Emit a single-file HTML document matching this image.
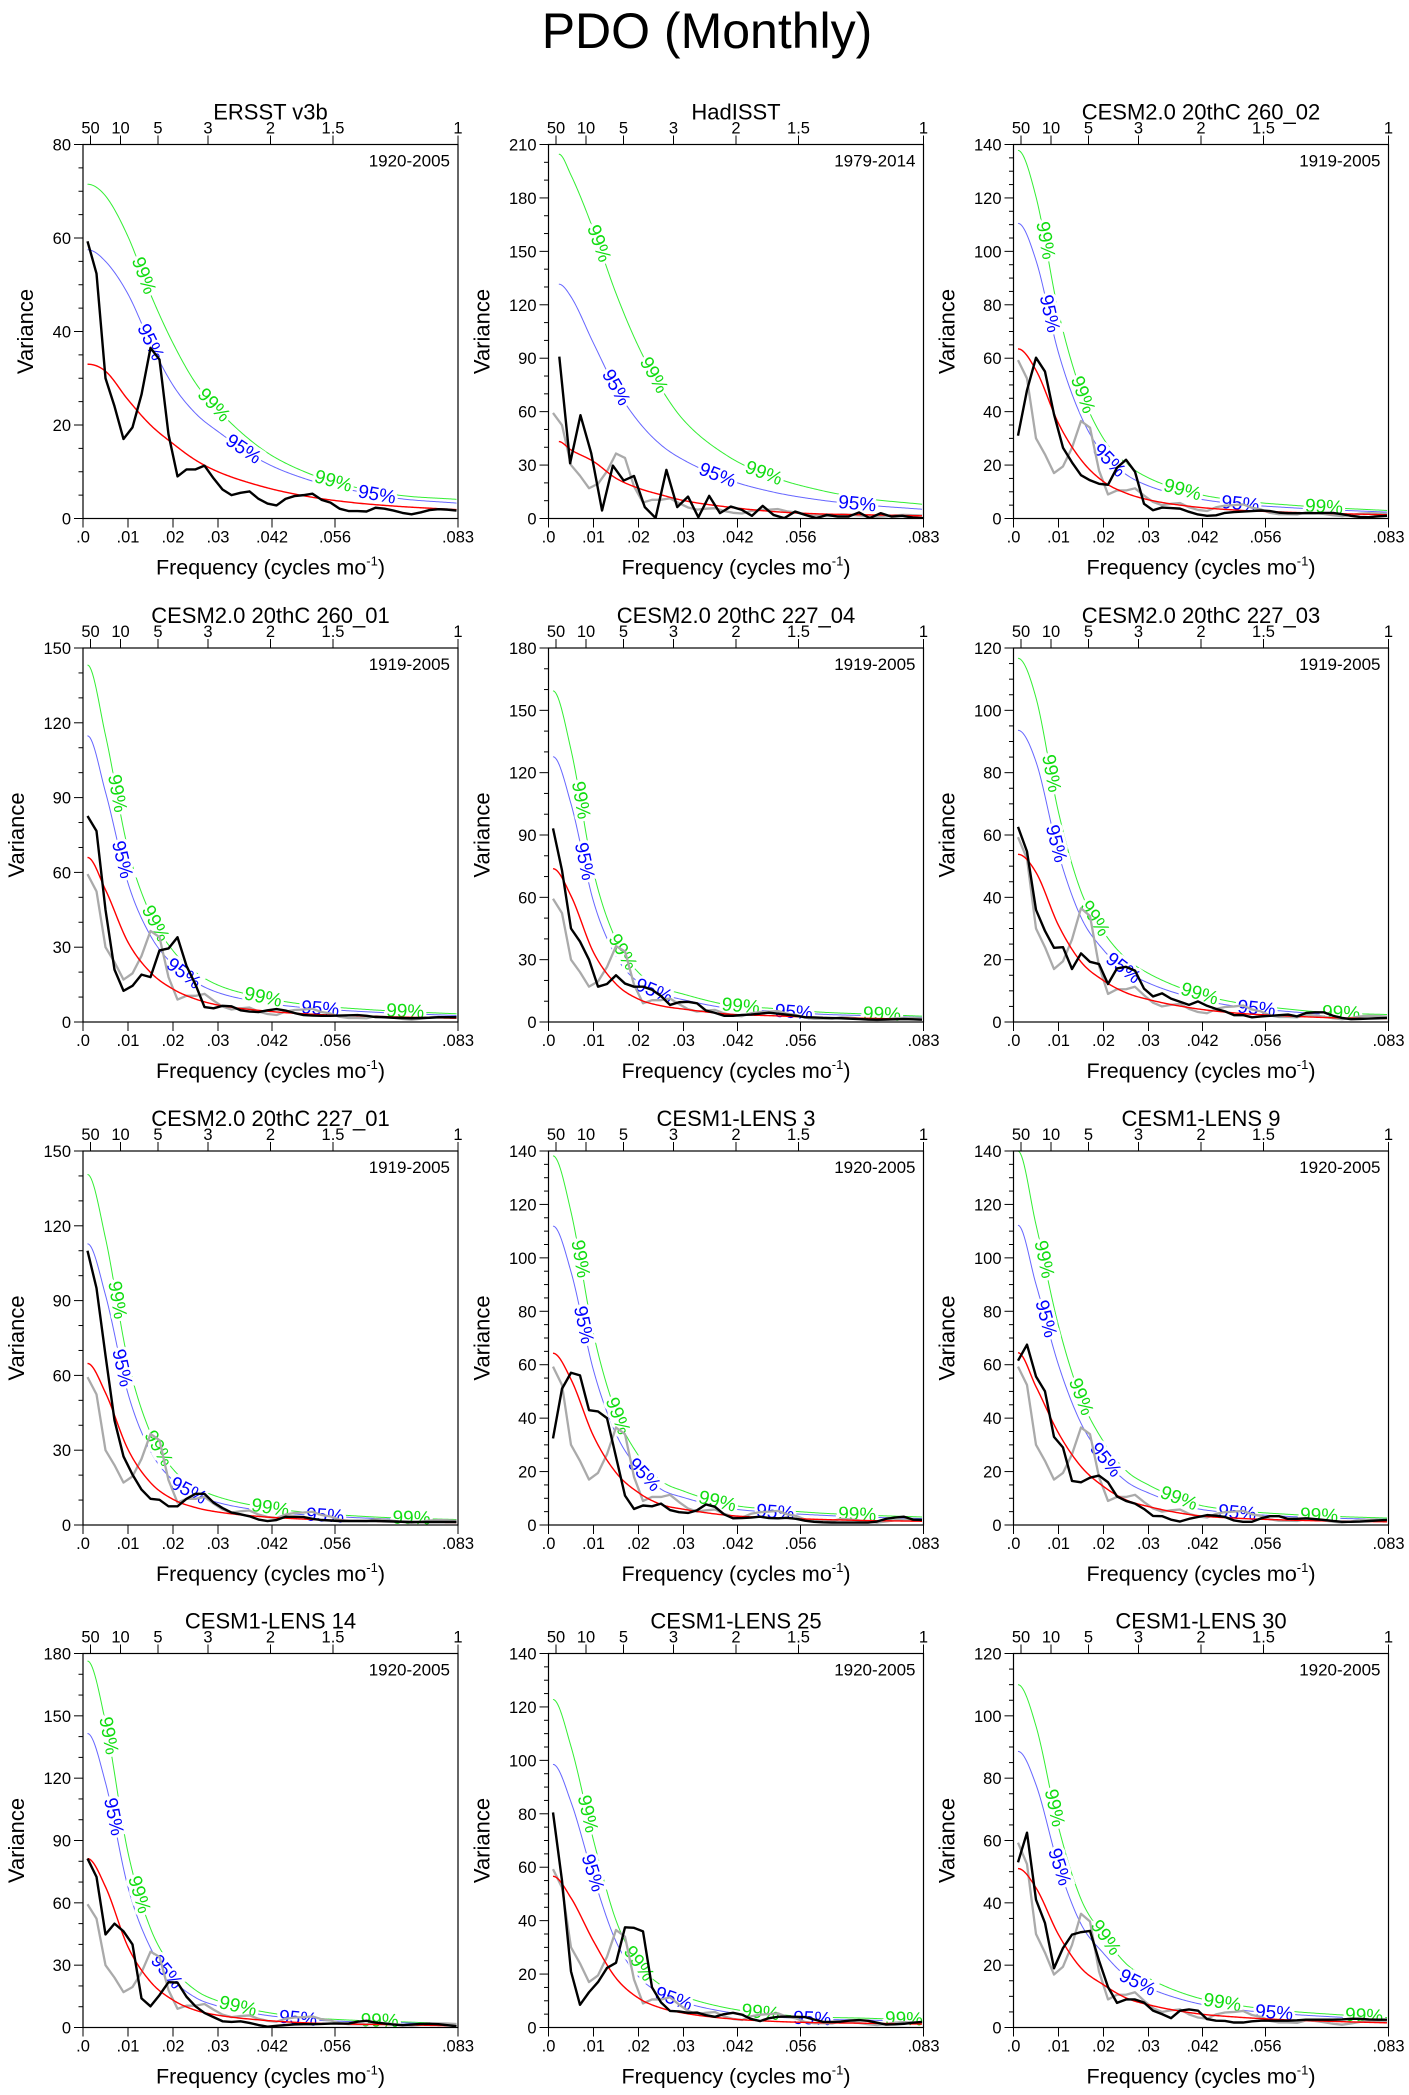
<!DOCTYPE html>
<html><head><meta charset="utf-8"><title>PDO (Monthly)</title>
<style>
html,body{margin:0;padding:0;background:#fff;}
svg{display:block;font-family:"Liberation Sans",Arial,sans-serif;}
</style></head>
<body>
<svg id="fig" xmlns="http://www.w3.org/2000/svg" width="1409" height="2095" viewBox="0 0 1409 2095">
<rect width="1409" height="2095" fill="#fff"/>
<text x="707" y="48" font-size="50" text-anchor="middle">PDO (Monthly)</text>
</svg>
<script>
// ---------- data ----------
const spectrumFreq = [0.001,0.003,0.005,0.007,0.009,0.011,0.013,0.015,0.017,0.019,0.021,0.023,0.025,0.027,0.029,0.031,0.033,0.035,0.037,0.039,0.041,0.043,0.045,0.047,0.049,0.051,0.053,0.055,0.057,0.059,0.061,0.063,0.065,0.067,0.069,0.071,0.073,0.075,0.077,0.079,0.081,0.083];
const hadFreq = [0.0024,0.0048,0.0071,0.0095,0.0119,0.0143,0.0167,0.019,0.0214,0.0238,0.0262,0.0286,0.031,0.0333,0.0357,0.0381,0.0405,0.0429,0.0452,0.0476,0.05,0.0524,0.0548,0.0571,0.0595,0.0619,0.0643,0.0667,0.069,0.0714,0.0738,0.0762,0.0786,0.081,0.0833];
const curveFreq = [0.001,0.005,0.01,0.015,0.02,0.025,0.03,0.04,0.05,0.06,0.07,0.083];
const hadCurveFreq = [0.0023,0.005,0.01,0.015,0.02,0.025,0.03,0.04,0.05,0.06,0.07,0.083];
const bottomTickValues = [0,0.01,0.02,0.03,0.042,0.056,0.08333];
const bottomTickLabels = [".0",".01",".02",".03",".042",".056",".083"];
const topPeriodYears = [50,10,5,3,2,1.5,1];
const topPeriodLabels = ["50","10","5","3","2","1.5","1"];

const ersstSpectrum = [59.3,52.4,30,24,17,19.5,26.5,36.5,34,18,9,10.5,10.5,11.3,8.6,6.2,5,5.5,5.8,4.2,3.2,2.8,4.2,4.8,5,5.3,4,3.4,2.1,1.6,1.6,1.5,2.3,2.1,1.7,1.2,0.9,1.3,1.8,2,1.9,1.7];
const ersstRed = [33,31.5,25.4,20,16,12.5,10,6.8,4.7,3.4,2.6,1.9];
const ersst95 = [57.5,55,48,37.5,28.5,22.5,18.6,12.2,8.3,6,4.3,3.3];
const ersst99 = [71.5,69,60.3,48,37.5,29,23.2,14.7,9.7,6.8,5,4.1];
const hadSpectrum = [90.9,31,58,36.6,4.5,29.7,21.3,23.9,6.4,0.3,27.3,6.4,12.3,0.7,12.7,3,6.7,4.9,1.5,7.1,2,0.2,3.9,2,0.2,2,1.1,1.1,3.4,0.2,3,1.1,1.5,0.5,0.2];
const hadRed = [43.2,38.5,32,22.6,17,13.3,10.1,6.4,3.9,2.6,2.1,1.5];
const had95 = [131.6,124.5,98.4,73,54.4,41.3,32.9,21.7,14.8,10.5,7.7,5.2];
const had99 = [204.6,192.8,162,126.4,96.5,73.1,55.3,34.8,23.2,16.1,11.4,8];
const c26002Spectrum = [31,48,60.2,55,39,26.5,21,16.2,14.3,13,12.6,19,22,17.5,5.5,3.1,4.1,3.9,3.7,2.5,1.5,1,1.2,2.1,2.4,2.6,2.8,3,2.8,2.2,2,2,2,2,2.1,2.1,1.6,1,0.6,0.5,0.8,1];
const c26002Red = [63.5,55.5,35.6,22,13.8,9.5,7,4.4,3.1,2.4,1.9,1.4];
const c26002C95 = [110.5,96.6,62,38.3,24,16.5,12.2,7.7,5.4,4.2,3.3,2.4];
const c26002C99 = [137.8,120.4,77.3,47.7,29.9,20.6,15.2,9.5,6.7,5.2,4.1,3.0];
const c26001Spectrum = [82.6,76.6,45,21,12.5,14.5,19,18,28.7,29.5,34,22.5,15,6,5.5,6.5,6.3,4.7,4.2,4,4.7,5.2,4.6,3.6,2.8,2.6,2.5,2.5,2.6,2.7,2.8,2.5,2,1.9,1.7,1.6,1.5,1.6,1.7,1.9,1.9,1.9];
const c26001Red = [66,53,32,19.9,13.2,9.2,6.8,4.5,3.2,2.5,2,1.5];
const c26001C95 = [114.8,92.2,55.7,34.6,23,16,11.8,7.8,5.6,4.4,3.5,2.6];
const c26001C99 = [143.2,115,69.4,43.2,28.6,20,14.8,9.8,6.9,5.4,4.3,3.3];
const c22704Spectrum = [93.2,73,45,38.7,30,17,18.3,22.5,18.5,17,17,15.5,12.5,8.2,9.5,9.7,9,5.5,4.4,3,3,3.4,3.6,4,4.5,4,3.5,3,2.3,2.2,2,1.9,1.8,1.6,1.4,1.2,1.1,1.2,1.3,1.4,1.3,1.1];
const c22704Red = [73.8,60.7,33.5,18.3,11,7.8,6.2,3.8,3,2.2,1.8,1.3];
const c22704C95 = [127.7,105,58,31.7,19,13.5,10.7,6.6,5.2,3.8,3.1,2.2];
const c22704C99 = [159.4,131,72.4,39.5,23.8,16.8,13.4,8.2,6.5,4.8,3.9,2.8];
const c22703Spectrum = [62.6,54.7,36,29.2,23.8,24,17,22,19.3,18.6,12.2,17.2,17.7,16.5,10.7,8.2,9.2,7.5,6.5,5.5,6.6,5.2,4.2,3.4,2.2,2.2,1.5,1.8,2,2.2,2.4,1.8,2.9,3.1,3.1,2,1.3,0.9,1,1.1,1.2,1.3];
const c22703Red = [53.8,48,31,19.3,13.3,9.4,7.2,4.4,2.8,2,1.4,1.1];
const c22703C95 = [93.6,83.5,54,33.6,23.1,16.4,12.5,7.7,4.9,3.5,2.4,1.9];
const c22703C99 = [116.7,104,67.3,41.9,28.9,20.4,15.6,9.5,6.1,4.3,3,2.4];
const c22701Spectrum = [110,95,68,42,27.5,20.2,14.2,10.5,10.1,7.5,7.5,10.5,12.5,12.5,9,6.8,5,4.3,3.5,2.2,1.6,2,3.3,3.3,3.2,2.5,2,1.8,1.6,1.6,1.6,1.6,1.6,1.5,1.4,1.3,1.2,1.2,1.2,1.2,1.2,1.2];
const c22701Red = [64.8,53,30.3,17,10.3,7,5.2,3.3,2.3,1.7,1.3,1];
const c22701C95 = [112.8,92.2,52.7,29.6,17.9,12.2,9,5.7,4,3,2.3,1.7];
const c22701C99 = [140.6,115,65.8,36.9,22.4,15.2,11.3,7.2,5,3.7,2.8,2.2];
const lens3Spectrum = [32.4,51,57,56,43,42.5,40,25.5,11,6,7.3,7,8,5.6,4.8,4.5,5.5,7.7,6.8,4,2.5,2.6,2.8,3.1,2.6,2.5,2.7,2.3,1.6,1.2,1,0.9,0.9,0.9,0.9,0.9,1.3,2.3,2.8,3.1,2,1.9];
const lens3Red = [64.3,54.5,33.3,19.6,12.1,7.7,5.9,3.6,2.7,2.1,1.7,1.4];
const lens3C95 = [111.9,94.8,57.9,34.1,21,13.4,10.3,6.3,4.7,3.7,3,2.4];
const lens3C99 = [138.2,117.2,71.6,42.1,26,16.6,12.7,7.7,5.8,4.5,3.7,3];
const lens9Spectrum = [61.5,67.5,55.6,50,33,29,16.5,16,17.7,18.5,16,10.7,9,8,6,3.4,3.3,2,1.3,2.3,3,3.7,3.5,3,1.7,1.2,1.2,2.5,3.3,3.3,2.3,2.3,2.5,2.2,1.9,1.5,1.2,1.2,1.3,1.5,1.7,1.9];
const lens9Red = [64.5,51.8,34.4,21.9,14.4,9.4,6.9,3.7,2.5,1.9,1.5,1.2];
const lens9C95 = [112.2,90.1,59.9,38.1,25.1,16.4,12,6.4,4.4,3.3,2.6,2.1];
const lens9C99 = [140,112.4,74.6,47.5,31.2,20.4,15,8,5.4,4.1,3.3,2.6];
const lens14Spectrum = [81.3,72.5,44.8,50,46.3,40,14,10.2,15.6,21.8,21.6,14.8,10.2,7,5,3,2.7,3,2.2,1.2,0.4,0.8,1.2,1.5,1.6,1.6,1.7,1.9,1.9,1.9,2.8,3.2,2.4,1.9,1.4,1.1,1.4,1.7,1.8,1.6,1.1,0.6];
const lens14Red = [81.3,67.7,38.8,22,13.2,8.3,5.9,3.5,2.2,1.6,1.3,0.8];
const lens14C95 = [141.5,117.8,67.5,38.3,23,14.4,10.3,6.1,3.8,2.8,2.3,1.4];
const lens14C99 = [176.4,146.9,84.2,47.7,28.6,18,12.8,7.6,4.8,3.5,2.8,1.7];
const lens25Spectrum = [80.5,55,21,8.5,13.2,17,22.3,24.2,37.5,37.3,36,15,9.4,6.2,6,5.5,5.6,4.6,4,5,5.5,4.8,3.2,2.4,3.5,4,4.1,4,3.9,3,2.1,2.1,2.2,2.6,2.8,2.5,1.8,1.1,1.2,1.4,1.8,2.1];
const lens25Red = [56.6,48.5,32.3,18.5,11,7.3,5.4,3.3,2.3,1.8,1.6,1.3];
const lens25C95 = [98.5,84.4,56.2,32.2,19.1,12.7,9.4,5.7,4,3.1,2.8,2.3];
const lens25C99 = [122.8,105.2,70.1,40.1,23.9,15.8,11.7,7.2,5,3.9,3.5,2.8];
const lens30Spectrum = [53,62.5,41,33.5,19,25.5,29.8,30.6,31,21.5,13,7.9,9,9,8,5.4,4.3,3,5.4,5.8,5.4,2.7,2.2,2.1,1.6,1.6,2,2.2,2.2,2.2,2.2,2.3,2.5,2.5,2.5,2.5,2.6,2.8,2.8,2.6,2.5,2.5];
const lens30Red = [51,44.8,29.8,19.1,13.7,9.5,7.3,4.6,3.3,2.5,2,1.5];
const lens30C95 = [88.6,77.9,51.9,33.2,23.8,16.5,12.7,8,5.7,4.4,3.5,2.6];
const lens30C99 = [110,96.7,64.3,41.2,29.6,20.5,15.8,9.9,7.1,5.4,4.3,3.2];

const colX = [83, 548.5, 1013.5];
const rowY = [144.5, 648, 1151, 1653.5];
const PW = 375, PH = 374, FMAX = 0.08333;

const panels = [
 {id:'ersst', title:'ERSST v3b', years:'1920-2005', ymax:80, major:20, minor:5, freq:spectrumFreq, spec:ersstSpectrum, gray:null, cf:curveFreq, red:ersstRed, c95:ersst95, c99:ersst99, l99:[0.0134,0.029,0.0556], l95:[0.0149,0.0356,0.0653]},
 {id:'hadisst', title:'HadISST', years:'1979-2014', ymax:210, major:30, minor:10, freq:hadFreq, spec:hadSpectrum, gray:ersstSpectrum, cf:hadCurveFreq, red:hadRed, c95:had95, c99:had99, l99:[0.0111,0.0233,0.0478], l95:[0.0149,0.0375,0.0686]},
 {id:'cesm2-260-02', title:'CESM2.0 20thC 260_02', years:'1919-2005', ymax:140, major:20, minor:5, freq:spectrumFreq, spec:c26002Spectrum, gray:ersstSpectrum, cf:curveFreq, red:c26002Red, c95:c26002C95, c99:c26002C99, l99:[0.007,0.0153,0.0375,0.069], l95:[0.0079,0.0212,0.0504]},
 {id:'cesm2-260-01', title:'CESM2.0 20thC 260_01', years:'1919-2005', ymax:150, major:30, minor:10, freq:spectrumFreq, spec:c26001Spectrum, gray:ersstSpectrum, cf:curveFreq, red:c26001Red, c95:c26001C95, c99:c26001C99, l99:[0.0075,0.016,0.04,0.0716], l95:[0.0086,0.0223,0.0527]},
 {id:'cesm2-227-04', title:'CESM2.0 20thC 227_04', years:'1919-2005', ymax:180, major:30, minor:10, freq:spectrumFreq, spec:c22704Spectrum, gray:ersstSpectrum, cf:curveFreq, red:c22704Red, c95:c22704C95, c99:c22704C99, l99:[0.0071,0.0164,0.0427,0.0741], l95:[0.0079,0.0234,0.0545]},
 {id:'cesm2-227-03', title:'CESM2.0 20thC 227_03', years:'1919-2005', ymax:120, major:20, minor:5, freq:spectrumFreq, spec:c22703Spectrum, gray:ersstSpectrum, cf:curveFreq, red:c22703Red, c95:c22703C95, c99:c22703C99, l99:[0.0083,0.018,0.0413,0.0728], l95:[0.0094,0.0243,0.054]},
 {id:'cesm2-227-01', title:'CESM2.0 20thC 227_01', years:'1919-2005', ymax:150, major:30, minor:10, freq:spectrumFreq, spec:c22701Spectrum, gray:ersstSpectrum, cf:curveFreq, red:c22701Red, c95:c22701C95, c99:c22701C99, l99:[0.0075,0.0167,0.0416,0.073], l95:[0.0086,0.0234,0.0538]},
 {id:'lens-3', title:'CESM1-LENS 3', years:'1920-2005', ymax:140, major:20, minor:5, freq:spectrumFreq, spec:lens3Spectrum, gray:ersstSpectrum, cf:curveFreq, red:lens3Red, c95:lens3C95, c99:lens3C99, l99:[0.007,0.0153,0.0375,0.0686], l95:[0.0077,0.0212,0.0504]},
 {id:'lens-9', title:'CESM1-LENS 9', years:'1920-2005', ymax:140, major:20, minor:5, freq:spectrumFreq, spec:lens9Spectrum, gray:ersstSpectrum, cf:curveFreq, red:lens9Red, c95:lens9C95, c99:lens9C99, l99:[0.0067,0.0149,0.0367,0.0679], l95:[0.0071,0.0204,0.0497]},
 {id:'lens-14', title:'CESM1-LENS 14', years:'1920-2005', ymax:180, major:30, minor:10, freq:spectrumFreq, spec:lens14Spectrum, gray:ersstSpectrum, cf:curveFreq, red:lens14Red, c95:lens14C95, c99:lens14C99, l99:[0.0056,0.0124,0.0344,0.0659], l95:[0.0067,0.0185,0.0478]},
 {id:'lens-25', title:'CESM1-LENS 25', years:'1920-2005', ymax:140, major:20, minor:5, freq:spectrumFreq, spec:lens25Spectrum, gray:ersstSpectrum, cf:curveFreq, red:lens25Red, c95:lens25C95, c99:lens25C99, l99:[0.0086,0.02,0.0471,0.079], l95:[0.0097,0.0278,0.0586]},
 {id:'lens-30', title:'CESM1-LENS 30', years:'1920-2005', ymax:120, major:20, minor:5, freq:spectrumFreq, spec:lens30Spectrum, gray:ersstSpectrum, cf:curveFreq, red:lens30Red, c95:lens30C95, c99:lens30C99, l99:[0.009,0.0204,0.0464,0.0779], l95:[0.0101,0.0275,0.0579]}
];

const NS = 'http://www.w3.org/2000/svg';
const svg = document.getElementById('fig');
function mk(tag, attrs, parent){
  const e = document.createElementNS(NS, tag);
  for (const k in attrs) e.setAttribute(k, attrs[k]);
  parent.appendChild(e);
  return e;
}
function monotone(xs, ys){
  const n = xs.length, d = [], m = new Array(n);
  for (let i=0;i<n-1;i++) d.push((ys[i+1]-ys[i])/(xs[i+1]-xs[i]));
  m[0]=0; m[n-1]=d[n-2];
  for (let i=1;i<n-1;i++){ m[i] = (d[i-1]*d[i]<=0)?0:(d[i-1]+d[i])/2; }
  for (let i=0;i<n-1;i++){
    if (d[i]===0){m[i]=0;m[i+1]=0;continue;}
    const a=m[i]/d[i], b=m[i+1]/d[i], s=a*a+b*b;
    if (s>9){const t=3/Math.sqrt(s); m[i]=t*a*d[i]; m[i+1]=t*b*d[i];}
  }
  return function(x){
    let i=0; if (x<=xs[0]) i=0; else { while(i<n-2 && x>xs[i+1]) i++; }
    const h=xs[i+1]-xs[i], t=(x-xs[i])/h, t2=t*t, t3=t2*t;
    return (2*t3-3*t2+1)*ys[i]+(t3-2*t2+t)*h*m[i]+(-2*t3+3*t2)*ys[i+1]+(t3-t2)*h*m[i+1];
  };
}

panels.forEach((p, idx) => {
  const x0 = colX[idx%3], y0 = rowY[Math.floor(idx/3)];
  const sx = f => x0 + f/FMAX*PW;
  const sy = v => y0 + PH - v/p.ymax*PH;
  const g = mk('g', {}, svg);
  
  

  const clipId = 'clip' + idx;
  const cp = mk('clipPath', {id: clipId}, g);
  mk('rect', {x: x0, y: y0, width: PW, height: PH}, cp);

  const t = mk('text', {x: x0+PW/2, y: y0-25, 'font-size': 22, 'text-anchor':'middle'}, g);
  
  
  t.textContent = p.title;
  const yr = mk('text', {x: x0+PW-8, y: y0+22, 'font-size': 17, 'text-anchor':'end'}, g);
  
  
  yr.textContent = p.years;

  const yAxis = mk('g', {stroke:'#000', 'stroke-width':1}, g);
  
  
  for (let v=0; v<=p.ymax+1e-9; v+=p.minor){
    const isMajor = Math.abs(v/p.major - Math.round(v/p.major))<1e-6;
    const yy = sy(v);
    mk('line', {x1:x0-(isMajor?9:4.5), x2:x0, y1:yy, y2:yy}, yAxis);
    if (isMajor){
      const lab = mk('text', {x:x0-12, y:yy+6, 'font-size':16.5, 'text-anchor':'end', stroke:'none', fill:'#000'}, g);
      
      
      lab.textContent = String(v);
    }
  }
  const yt = mk('text', {x:0, y:0, 'font-size':22, 'text-anchor':'middle', transform:`translate(${x0-(p.ymax<100?58:67)+8},${y0+PH/2}) rotate(-90)`}, g);
  
  
  yt.textContent = 'Variance';

  bottomTickValues.forEach((f,i) => {
    const xx = sx(f);
    const tk = mk('line', {x1:xx, x2:xx, y1:y0+PH, y2:y0+PH+9, stroke:'#000', 'stroke-width':1}, g);
    
    
    const lab = mk('text', {x:xx, y:y0+PH+24, 'font-size':16.5, 'text-anchor':'middle'}, g);
    
    
    lab.textContent = bottomTickLabels[i];
  });
  const xt = mk('text', {x:x0+PW/2, y:y0+PH+56, 'font-size':21.5, 'text-anchor':'middle'}, g);
  
  
  xt.innerHTML = 'Frequency (cycles mo<tspan font-size="13" dy="-9">-1</tspan><tspan dy="9">)</tspan>';

  topPeriodYears.forEach((yrs,i) => {
    const xx = sx(1/(12*yrs));
    const tk = mk('line', {x1:xx, x2:xx, y1:y0-9, y2:y0, stroke:'#000', 'stroke-width':1}, g);
    
    
    const lab = mk('text', {x:xx, y:y0-11, 'font-size':16.5, 'text-anchor':'middle'}, g);
    
    
    lab.textContent = topPeriodLabels[i];
  });

  const plot = mk('g', {'clip-path':`url(#${clipId})`, fill:'none'}, g);
  
  

  function smoothPath(vals){
    const fn = monotone(p.cf, vals);
    const f0 = p.cf[0], f1 = p.cf[p.cf.length-1];
    let d = '';
    for (let i=0;i<=300;i++){
      const f = f0 + (f1-f0)*i/300;
      d += (i?'L':'M') + sx(f).toFixed(2) + ',' + sy(fn(f)).toFixed(2);
    }
    return {d, fn};
  }
  const c99 = smoothPath(p.c99), c95 = smoothPath(p.c95), red = smoothPath(p.red);
  const l99 = mk('path', {d:c99.d, stroke:'#33ee33', 'stroke-width':1}, plot);
  
  
  const l95 = mk('path', {d:c95.d, stroke:'#6666ff', 'stroke-width':1}, plot);
  
  

  function addLabels(list, fn, txt, color, nm){
    list.forEach(f => {
      const px = sx(f), py = sy(fn(f));
      const dx = sx(f+0.0005)-sx(f-0.0005), dy = sy(fn(f+0.0005))-sy(fn(f-0.0005));
      const ang = Math.atan2(dy, dx)*180/Math.PI;
      const lt = mk('text', {x:0, y:0, 'font-size':19, 'text-anchor':'middle', 'dominant-baseline':'central', fill:color, stroke:'#fff', 'stroke-width':6, 'paint-order':'stroke', transform:`translate(${px.toFixed(1)},${py.toFixed(1)}) rotate(${ang.toFixed(1)})`}, plot);
      
      
      lt.textContent = txt;
    });
  }
  addLabels(p.l99, c99.fn, '99%', '#11dd11', 'conf-99-label');
  addLabels(p.l95, c95.fn, '95%', '#0000ff', 'conf-95-label');

  if (p.gray){
    const gp = mk('polyline', {points: spectrumFreq.map((f,i)=>sx(f).toFixed(2)+','+sy(p.gray[i]).toFixed(2)).join(' '), stroke:'#aaaaaa', 'stroke-width':2.3, 'stroke-linejoin':'round'}, plot);
    
    
  }
  const rl = mk('path', {d:red.d, stroke:'#ff0000', 'stroke-width':1.4}, plot);
  
  
  const bp = mk('polyline', {points: p.freq.map((f,i)=>sx(f).toFixed(2)+','+sy(p.spec[i]).toFixed(2)).join(' '), stroke:'#000', 'stroke-width':2.4, 'stroke-linejoin':'round'}, plot);
  
  

  const frame = mk('rect', {x:x0, y:y0, width:PW, height:PH, fill:'none', stroke:'#000', 'stroke-width':1.2}, g);
  
  
});
</script>
</body></html>
